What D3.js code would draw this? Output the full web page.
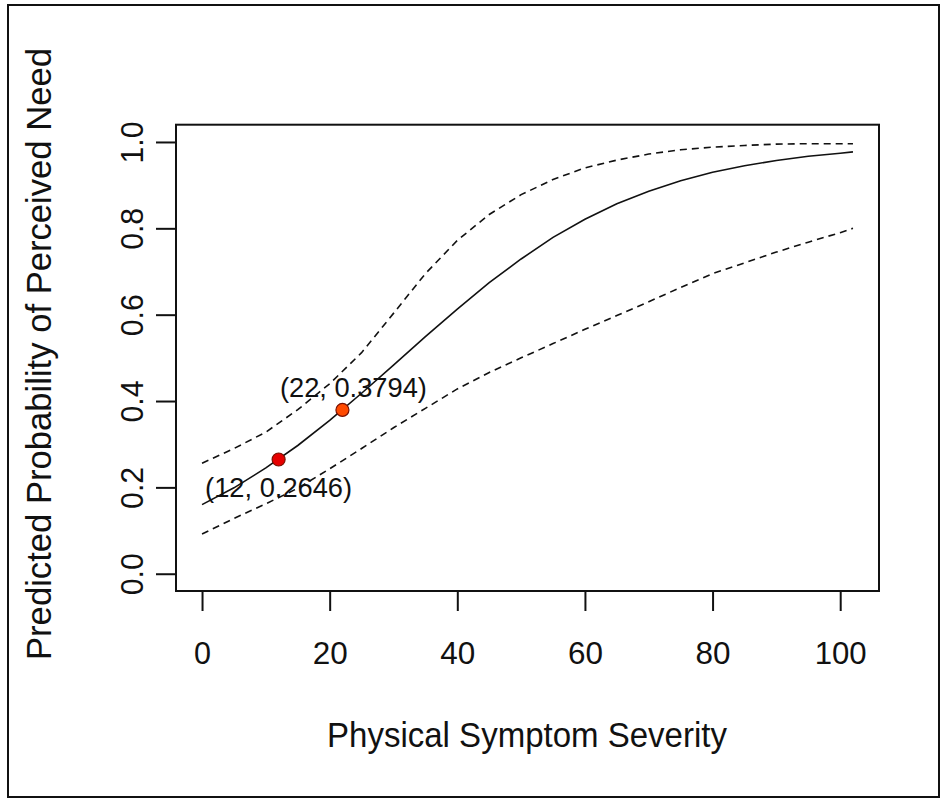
<!DOCTYPE html>
<html lang="en">
<head>
<meta charset="UTF-8" />
<title>Predicted Probability of Perceived Need</title>
<script src="https://d3js.org/d3.v7.min.js"></script>
<style>
	body { margin: 0; background: #fff; }
	svg text { font-family: "Liberation Sans", Arial, sans-serif; fill: #111; }
</style>
</head>
<body>
<svg id="chart"></svg>
<script>
// values
const severity  = [0, 5, 10, 15, 20, 25, 30, 35, 40, 45, 50, 55, 60, 65, 70, 75, 80, 85, 90, 95, 100, 102];
const predicted = [0.160, 0.199, 0.245, 0.297, 0.355, 0.418, 0.483, 0.549, 0.613, 0.674, 0.729, 0.779,
                   0.821, 0.857, 0.886, 0.910, 0.930, 0.945, 0.957, 0.967, 0.974, 0.977];
const upperCI   = [0.256, 0.290, 0.328, 0.380, 0.440, 0.512, 0.603, 0.695, 0.772, 0.832, 0.878, 0.913,
                   0.940, 0.958, 0.972, 0.982, 0.988, 0.992, 0.995, 0.996, 0.996, 0.996];
const lowerCI   = [0.092, 0.128, 0.162, 0.198, 0.243, 0.290, 0.338, 0.383, 0.428, 0.466, 0.500, 0.533,
                   0.566, 0.598, 0.630, 0.663, 0.695, 0.720, 0.745, 0.768, 0.790, 0.800];

const pointX = [12, 22];
const pointY = [0.2646, 0.3794];
const pointLabels = ["(12, 0.2646)", "(22, 0.3794)"];
const pointFill = ["#e60000", "#ff4a00"];

const xTicks = [0, 20, 40, 60, 80, 100];
const yTicks = [0, 0.2, 0.4, 0.6, 0.8, 1.0];

const W = 942, H = 800;
const box = { left: 176, right: 879, top: 124.7, bottom: 591 };

const svg = d3.select("#chart").attr("width", W).attr("height", H);

// outer frame of the figure
svg.append("rect")
	.attr("x", 8).attr("y", 5)
	.attr("width", 931).attr("height", 792)
	.attr("fill", "none").attr("stroke", "#111").attr("stroke-width", 2);

// R style 4% padding around data range
const x = d3.scaleLinear().domain([-4.08, 106.08]).range([box.left, box.right]);
const y = d3.scaleLinear().domain([-0.04, 1.04]).range([box.bottom, box.top]);

const xAxis = svg.append("g")
	.attr("transform", `translate(0,${box.bottom})`)
	.call(d3.axisBottom(x).tickValues(xTicks).tickSize(20).tickPadding(31).tickFormat(d3.format("d")));
xAxis.select(".domain").remove();
xAxis.selectAll("line").attr("stroke", "#111").attr("stroke-width", 2);
xAxis.selectAll("text")
	.attr("font-size", 31)
	.attr("fill", "#111")
	.attr("textLength", d => d >= 100 ? 52 : (d === 0 ? 17 : 35))
	.attr("lengthAdjust", "spacingAndGlyphs");

const yAxis = svg.append("g")
	.attr("transform", `translate(${box.left},0)`)
	.call(d3.axisLeft(y).tickValues(yTicks).tickSize(20).tickFormat(d3.format(".1f")));
yAxis.select(".domain").remove();
yAxis.selectAll("line").attr("stroke", "#111").attr("stroke-width", 2);
yAxis.selectAll("text")
	.attr("font-size", 31)
	.attr("fill", "#111")
	.attr("x", 0).attr("y", -33).attr("dy", 0)
	.attr("text-anchor", "middle")
	.attr("transform", "rotate(-90)")
	.attr("textLength", 42)
	.attr("lengthAdjust", "spacingAndGlyphs");

// plot box
svg.append("rect")
	.attr("x", box.left).attr("y", box.top)
	.attr("width", box.right - box.left).attr("height", box.bottom - box.top)
	.attr("fill", "none").attr("stroke", "#111").attr("stroke-width", 2);

const line = vals => d3.line()
	.x((d, i) => x(severity[i]))
	.y(d => y(d))(vals);

svg.append("path")
	.attr("d", line(upperCI))
	.attr("fill", "none").attr("stroke", "#111").attr("stroke-width", 1.6)
	.attr("stroke-dasharray", "7,5");

svg.append("path")
	.attr("d", line(lowerCI))
	.attr("fill", "none").attr("stroke", "#111").attr("stroke-width", 1.6)
	.attr("stroke-dasharray", "7,5");

svg.append("path")
	.attr("d", line(predicted))
	.attr("fill", "none").attr("stroke", "#111").attr("stroke-width", 1.6);

// highlighted points
svg.selectAll(".pt")
	.data(pointX)
	.enter().append("circle")
	.attr("class", "pt")
	.attr("cx", d => x(d))
	.attr("cy", (d, i) => y(pointY[i]))
	.attr("r", 6.5)
	.attr("fill", (d, i) => pointFill[i])
	.attr("stroke", "#7a1000")
	.attr("stroke-width", 1.2);

// labels: first below its point, second above and a little right
const labelDx = [0, 11];
const labelDy = [38, -13];
svg.selectAll(".pt-label")
	.data(pointLabels)
	.enter().append("text")
	.attr("class", "pt-label")
	.attr("x", (d, i) => x(pointX[i]) + labelDx[i])
	.attr("y", (d, i) => y(pointY[i]) + labelDy[i])
	.attr("text-anchor", "middle")
	.attr("font-size", 27)
	.attr("textLength", 147)
	.attr("lengthAdjust", "spacingAndGlyphs")
	.text(d => d);

svg.append("text")
	.attr("x", 527).attr("y", 747)
	.attr("text-anchor", "middle")
	.attr("font-size", 35)
	.attr("textLength", 400)
	.attr("lengthAdjust", "spacingAndGlyphs")
	.text("Physical Symptom Severity");

svg.append("text")
	.attr("transform", "translate(51,354) rotate(-90)")
	.attr("text-anchor", "middle")
	.attr("font-size", 35)
	.attr("textLength", 612)
	.attr("lengthAdjust", "spacingAndGlyphs")
	.text("Predicted Probability of Perceived Need");
</script>
</body>
</html>
